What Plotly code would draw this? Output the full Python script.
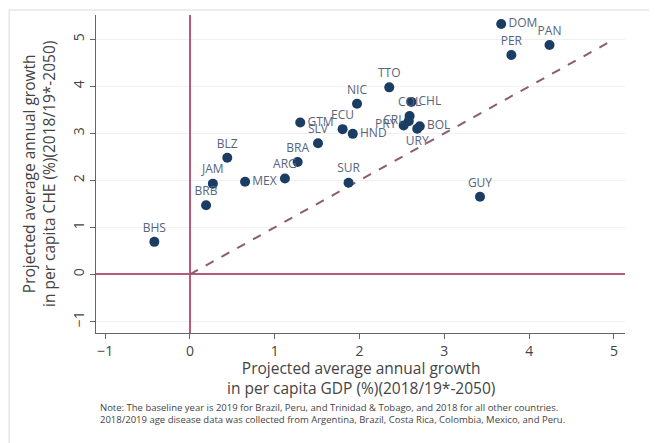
import plotly.graph_objects as go

countries = ["DOM", "PAN", "PER", "TTO", "NIC", "CHL", "COL", "CRI", "PRY", "BOL", "URY",
             "ECU", "HND", "GTM", "SLV", "BRA", "ARG", "MEX", "JAM", "BLZ", "BRB", "BHS",
             "SUR", "GUY"]
gdp_growth = [3.67, 4.24, 3.79, 2.35, 1.97, 2.61, 2.59, 2.58, 2.52, 2.71, 2.68,
              1.80, 1.92, 1.30, 1.51, 1.27, 1.12, 0.65, 0.27, 0.44, 0.19, -0.42,
              1.87, 3.42]
che_growth = [5.33, 4.88, 4.67, 3.98, 3.63, 3.67, 3.37, 3.26, 3.17, 3.15, 3.10,
              3.09, 2.99, 3.23, 2.79, 2.39, 2.04, 1.97, 1.93, 2.48, 1.47, 0.69,
              1.95, 1.65]
label_pos = ["middle right", "top center", "top center", "top center", "top center",
             "middle right", "top center", "middle left", "middle left", "middle right",
             "bottom center", "top center", "middle right", "middle right", "top center",
             "top center", "top center", "middle right", "top center", "top center",
             "top center", "top center", "top center", "top center"]

x_ticks = [-1, 0, 1, 2, 3, 4, 5]
y_ticks = [-1, 0, 1, 2, 3, 4, 5]
diag = [0, 5]

x_title = "Projected average annual growth<br>in per capita GDP (%)(2018/19*-2050)"
y_title = "Projected average annual growth<br>in per capita CHE (%)(2018/19*-2050)"
note = ("Note: The baseline year is 2019 for Brazil, Peru, and Trinidad &amp; Tobago, and 2018 for all other countries.<br>"
        "2018/2019 age disease data was collected from Argentina, Brazil, Costa Rica, Colombia, Mexico, and Peru.")

FONT = "Open Sans"
fig = go.Figure()

fig.add_trace(go.Scatter(x=diag, y=diag, mode="lines",
                         line=dict(color="#8d5d6d", width=2, dash="dash"),
                         hoverinfo="skip", showlegend=False))

fig.add_trace(go.Scatter(
    x=gdp_growth, y=che_growth, mode="markers+text", text=countries,
    textposition=label_pos,
    textfont=dict(family=FONT, size=12, color="#56657c"),
    marker=dict(color="#1b3d63", size=10),
    showlegend=False,
))

fig.update_layout(
    width=657, height=443,
    margin=dict(l=88, r=40, t=7, b=118),
    paper_bgcolor="white", plot_bgcolor="white",
    font=dict(family=FONT, color="#444"),
    xaxis=dict(range=[-1.108, 5.13], tickvals=x_ticks, showgrid=False, automargin=False,
               zeroline=True, zerolinecolor="#b85a77", zerolinewidth=1.5,
               showline=True, linecolor="#666", linewidth=1.2,
               ticks="outside", ticklen=5, tickcolor="#666",
               tickfont=dict(size=14, color="#444")),
    yaxis=dict(range=[-1.25, 5.52], tickvals=y_ticks, showgrid=True, automargin=False,
               gridcolor="#f0f0f0", gridwidth=1,
               zeroline=True, zerolinecolor="#b85a77", zerolinewidth=1.5,
               showline=True, linecolor="#666", linewidth=1.2,
               ticks="outside", ticklen=5, tickcolor="#666", tickangle=-90,
               tickfont=dict(size=14, color="#444")),
    shapes=[dict(type="rect", xref="paper", yref="paper",
                 x0=-0.164, x1=1.2, y0=-0.5, y1=1.0157,
                 line=dict(color="#e6e6e6", width=1.5), fillcolor="rgba(0,0,0,0)", layer="below")],
    annotations=[
        dict(xref="paper", yref="paper", x=0.5, y=-0.143, xanchor="center", yanchor="middle",
             showarrow=False, text=x_title, font=dict(family=FONT, size=15.5, color="#444")),
        dict(xref="paper", yref="paper", x=-0.1078, y=0.5, xanchor="center", yanchor="middle",
             showarrow=False, textangle=-90, text=y_title,
             font=dict(family=FONT, size=15.5, color="#444")),
        dict(xref="paper", yref="paper", x=0.004, y=-0.208, xanchor="left", yanchor="top",
             align="left", showarrow=False, text=note,
             font=dict(family=FONT, size=9.5, color="#444")),
    ],
)

fig.write_html("out.html")
